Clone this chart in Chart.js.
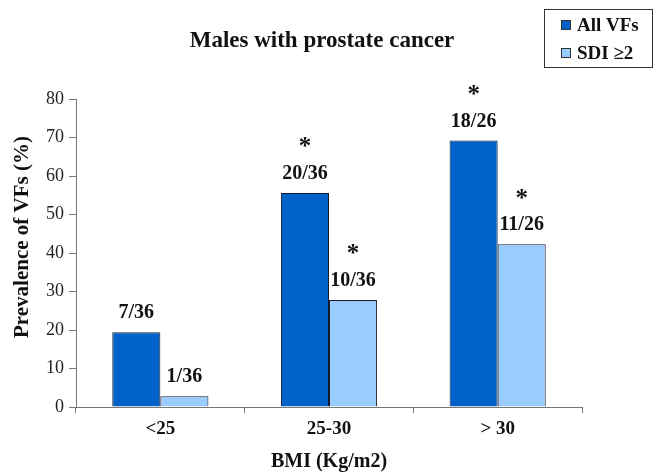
<!DOCTYPE html>
<html>
<head>
<meta charset="utf-8">
<script src="https://cdn.jsdelivr.net/npm/chart.js@4/dist/chart.umd.min.js"></script>
<style>
    html, body { margin: 0; padding: 0; background: #fff; }
    #wrap { width: 654px; height: 474px; }
</style>
</head>
<body>
<div id="wrap"><canvas id="chart" width="654" height="474"></canvas></div>
<script>
// Data
const categories = ['<25', '25-30', '> 30'];
const allVFs = [19.4, 55.6, 69.2];
const sdiValues = [2.8, 27.8, 42.3];
const allLabels = ['7/36', '20/36', '18/26'];
const sdiLabels = ['1/36', '10/36', '11/26'];
const allStars = ['', '*', '*'];
const sdiStars = ['', '*', '*'];
const yTicks = [0, 10, 20, 30, 40, 50, 60, 70, 80];

const serif = "'Liberation Serif', 'Times New Roman', serif";
Chart.defaults.font.family = serif;
Chart.defaults.color = '#111';

// Title, y title, legend box and bar labels
const decorations = {
    id: 'decorations',
    afterDatasetsDraw(chart) {
        const ctx = chart.ctx;
        ctx.save();
        ctx.fillStyle = '#111';
        ctx.textAlign = 'center';
        ctx.textBaseline = 'middle';

        // bar labels + asterisks
        const sets = [[allLabels, allStars], [sdiLabels, sdiStars]];
        sets.forEach(([labels, stars], di) => {
            const meta = chart.getDatasetMeta(di);
            meta.data.forEach((bar, i) => {
                ctx.font = 'bold 20px ' + serif;
                ctx.fillText(labels[i], bar.x, bar.y - 19);
                if (stars[i]) {
                    ctx.font = 'bold 25px ' + serif;
                    ctx.fillText(stars[i], bar.x, bar.y - 45);
                }
            });
        });

        // title
        ctx.font = 'bold 23px ' + serif;
        ctx.fillText('Males with prostate cancer', 322, 41);

        // y axis title
        ctx.save();
        ctx.translate(23, 237);
        ctx.rotate(-Math.PI / 2);
        ctx.font = 'bold 21px ' + serif;
        ctx.fillText('Prevalence of VFs (%)', 0, 0);
        ctx.restore();

        // legend box
        ctx.strokeStyle = '#333';
        ctx.lineWidth = 1;
        ctx.strokeRect(544.5, 9.5, 108, 58);
        const items = [
            { text: 'All VFs', color: '#0062C8', y: 25 },
            { text: 'SDI \u22652', color: '#99CCFF', y: 53 }
        ];
        ctx.textAlign = 'left';
        ctx.font = 'bold 19px ' + serif;
        items.forEach(it => {
            ctx.fillStyle = it.color;
            ctx.fillRect(561, it.y - 5, 10, 10);
            ctx.strokeStyle = '#333';
            ctx.strokeRect(561.5, it.y - 4.5, 9, 9);
            ctx.fillStyle = '#111';
            ctx.fillText(it.text, 577, it.y + 1);
        });
        ctx.restore();
    }
};

new Chart(document.getElementById('chart'), {
    type: 'bar',
    data: {
        labels: categories,
        datasets: [
            {
                label: 'All VFs',
                data: allVFs,
                backgroundColor: '#0062C8',
                borderColor: '#1a1a2a',
                borderWidth: 1
            },
            {
                label: 'SDI \u22652',
                data: sdiValues,
                backgroundColor: '#99CCFF',
                borderColor: '#1a1a2a',
                borderWidth: 1
            }
        ]
    },
    options: {
        responsive: false,
        animation: false,
        devicePixelRatio: 1,
        layout: { padding: { top: 99, right: 72, left: 0, bottom: 0 } },
        datasets: {
            bar: { categoryPercentage: 0.57, barPercentage: 1 }
        },
        plugins: {
            legend: { display: false },
            title: { display: false },
            tooltip: { enabled: false }
        },
        scales: {
            x: {
                grid: {
                    drawOnChartArea: false,
                    tickLength: 6,
                    color: '#777'
                },
                border: { color: '#777', width: 1 },
                ticks: {
                    font: { size: 19, weight: 'bold' },
                    color: '#111',
                    padding: 5
                },
                title: {
                    display: true,
                    text: 'BMI (Kg/m2)',
                    font: { size: 20, weight: 'bold' },
                    color: '#111',
                    padding: { top: 0, bottom: 0 }
                },
                afterFit(scale) { scale.height = 67; }
            },
            y: {
                min: 0,
                max: 80,
                afterBuildTicks(scale) {
                    scale.ticks = yTicks.map(v => ({ value: v }));
                },
                grid: {
                    drawOnChartArea: false,
                    tickLength: 7,
                    color: '#777'
                },
                border: { color: '#777', width: 1 },
                ticks: {
                    font: { size: 18 },
                    color: '#222',
                    padding: 5
                },
                afterFit(scale) { scale.width = 76; }
            }
        }
    },
    plugins: [decorations]
});
</script>
</body>
</html>
